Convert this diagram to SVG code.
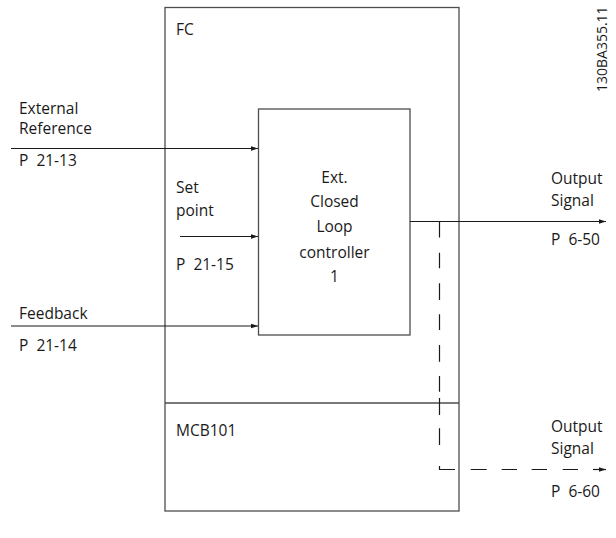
<svg xmlns="http://www.w3.org/2000/svg" width="616" height="538" viewBox="0 0 616 538">
<defs>
<marker id="ah" markerWidth="8" markerHeight="6" refX="7" refY="3" orient="auto" markerUnits="userSpaceOnUse">
<path d="M0,0.8 L7,3 L0,5.2 Z" fill="#1a1a1a"/>
</marker>
<style>
.box{fill:none;stroke:#4d4d4d;stroke-width:1.3}
.ln{fill:none;stroke:#1a1a1a;stroke-width:1.2}
text{font-family:"Open Sans","Noto Sans","DejaVu Sans",sans-serif;font-size:15.5px;fill:#1a1a1a}
.c{text-anchor:middle}
</style>
</defs>
<rect width="616" height="538" fill="#fff"/>
<g id="fc">
<rect class="box" x="165" y="7.5" width="294" height="503.5"/>
<text x="176" y="35">FC</text>
<text x="176" y="193">Set</text>
<text x="176" y="216">point</text>
<text x="176" y="270" xml:space="preserve">P  21-15</text>
</g>
<g id="mcb101">
<line class="box" x1="165" y1="403" x2="459" y2="403"/>
<text x="176" y="436">MCB101</text>
</g>
<g id="controller">
<rect class="box" x="258.5" y="109" width="151.5" height="226"/>
<text class="c" x="334.5" y="183">Ext.</text>
<text class="c" x="334.5" y="207">Closed</text>
<text class="c" x="334.5" y="232">Loop</text>
<text class="c" x="334.5" y="258">controller</text>
<text class="c" x="334.5" y="282">1</text>
</g>
<g id="ext-ref">
<text x="19" y="114">External</text>
<text x="19" y="134">Reference</text>
<text x="19" y="166" xml:space="preserve">P  21-13</text>
</g>
<g id="feedback">
<text x="19" y="319">Feedback</text>
<text x="19" y="351" xml:space="preserve">P  21-14</text>
</g>
<g id="out1">
<text x="551" y="184">Output</text>
<text x="551" y="206">Signal</text>
<text x="551" y="245" xml:space="preserve">P  6-50</text>
</g>
<g id="out2">
<text x="551" y="432">Output</text>
<text x="551" y="454">Signal</text>
<text x="551" y="497" xml:space="preserve">P  6-60</text>
</g>
<g id="connectors">
<line class="ln" x1="11" y1="148.5" x2="258" y2="148.5" marker-end="url(#ah)"/>
<line class="ln" x1="180" y1="236.5" x2="258" y2="236.5" marker-end="url(#ah)"/>
<line class="ln" x1="11" y1="326" x2="258" y2="326" marker-end="url(#ah)"/>
<line class="ln" x1="410" y1="221.5" x2="606" y2="221.5" marker-end="url(#ah)"/>
<path class="ln" d="M439.5,221 V237.5 M439.5,252.7 V268.3 M439.5,283.3 V300 M439.5,314.3 V330 M439.5,345 V361.7 M439.5,376 V391.7 M439.5,398 V415 M439.5,428.3 V445 M439.5,466 V469.5 H455 M470.7,469.5 H486.7 M501.7,469.5 H517 M531.7,469.5 H547 M562.7,469.5 H578"/>
<line class="ln" x1="593" y1="469.5" x2="606" y2="469.5" marker-end="url(#ah)"/>
</g>
<text transform="translate(607,92) rotate(-90)" style="font-size:14px">130BA355.11</text>
</svg>
